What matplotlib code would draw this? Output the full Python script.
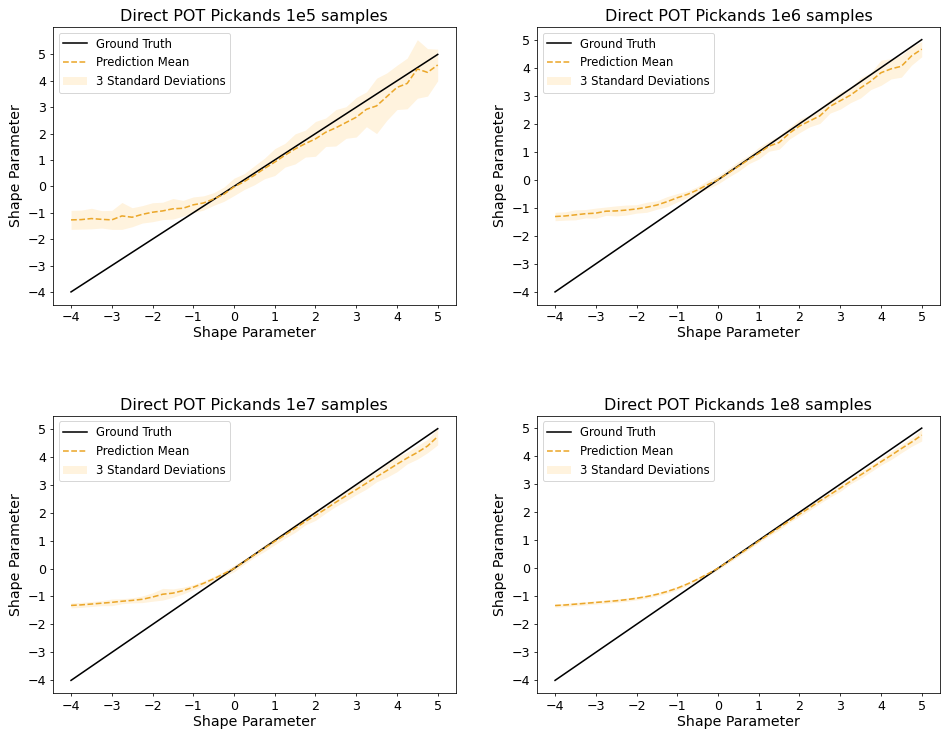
import matplotlib
matplotlib.use("Agg")
import matplotlib.pyplot as plt
import numpy as np

# shape parameter grid
x = np.array([-4.0, -3.75, -3.5, -3.25, -3.0, -2.75, -2.5, -2.25, -2.0, -1.75, -1.5, -1.25,
              -1.0, -0.75, -0.5, -0.25, 0.0, 0.25, 0.5, 0.75, 1.0, 1.25, 1.5, 1.75,
              2.0, 2.25, 2.5, 2.75, 3.0, 3.25, 3.5, 3.75, 4.0, 4.25, 4.5, 4.75, 5.0])

samples = ["1e5", "1e6", "1e7", "1e8"]

mean_1e5 = [-1.27, -1.26, -1.22, -1.25, -1.27, -1.12, -1.17, -1.06, -0.98, -0.93, -0.85, -0.83,
            -0.70, -0.63, -0.48, -0.30, -0.02, 0.18, 0.42, 0.68, 0.92, 1.18, 1.42, 1.62,
            1.80, 2.05, 2.22, 2.42, 2.62, 2.92, 3.05, 3.40, 3.75, 3.90, 4.45, 4.32, 4.60]
std_1e5 = [0.12, 0.12, 0.13, 0.11, 0.12, 0.17, 0.12, 0.11, 0.12, 0.11, 0.13, 0.10,
           0.10, 0.09, 0.08, 0.09, 0.11, 0.10, 0.12, 0.13, 0.17, 0.15, 0.19, 0.17,
           0.22, 0.18, 0.23, 0.20, 0.25, 0.22, 0.35, 0.30, 0.28, 0.32, 0.37, 0.30, 0.20]

mean_1e6 = [-1.31, -1.29, -1.25, -1.21, -1.19, -1.12, -1.11, -1.08, -1.04, -0.98, -0.90, -0.78,
            -0.64, -0.52, -0.36, -0.17, 0.00, 0.24, 0.48, 0.72, 0.95, 1.20, 1.33, 1.66,
            1.92, 2.10, 2.28, 2.62, 2.82, 3.02, 3.28, 3.52, 3.82, 3.96, 4.05, 4.42, 4.66]
std_1e6 = [0.05, 0.05, 0.06, 0.05, 0.06, 0.05, 0.06, 0.06, 0.05, 0.06, 0.05, 0.06,
           0.05, 0.04, 0.04, 0.05, 0.05, 0.05, 0.06, 0.05, 0.07, 0.06, 0.08, 0.07,
           0.08, 0.07, 0.09, 0.08, 0.10, 0.09, 0.12, 0.10, 0.15, 0.12, 0.13, 0.11, 0.09]

mean_1e7 = [-1.32, -1.30, -1.27, -1.24, -1.21, -1.17, -1.14, -1.10, -1.02, -0.92, -0.88, -0.79,
            -0.67, -0.53, -0.37, -0.19, 0.00, 0.24, 0.49, 0.73, 0.97, 1.20, 1.44, 1.68,
            1.90, 2.13, 2.37, 2.60, 2.82, 3.05, 3.28, 3.50, 3.73, 3.95, 4.15, 4.38, 4.72]
std_1e7 = [0.03, 0.03, 0.03, 0.03, 0.04, 0.03, 0.03, 0.04, 0.05, 0.07, 0.05, 0.04,
           0.03, 0.03, 0.03, 0.03, 0.04, 0.03, 0.03, 0.04, 0.04, 0.04, 0.05, 0.04,
           0.06, 0.05, 0.05, 0.06, 0.06, 0.07, 0.06, 0.08, 0.09, 0.07, 0.08, 0.08, 0.10]

mean_1e8 = [-1.33, -1.31, -1.28, -1.25, -1.22, -1.19, -1.16, -1.12, -1.07, -1.01, -0.93, -0.83,
            -0.71, -0.56, -0.39, -0.20, 0.00, 0.24, 0.48, 0.72, 0.97, 1.21, 1.45, 1.69,
            1.93, 2.16, 2.40, 2.63, 2.86, 3.10, 3.33, 3.56, 3.80, 4.03, 4.27, 4.50, 4.75]
std_1e8 = [0.02, 0.02, 0.02, 0.02, 0.02, 0.02, 0.02, 0.02, 0.02, 0.02, 0.02, 0.02,
           0.02, 0.02, 0.02, 0.02, 0.02, 0.02, 0.02, 0.02, 0.02, 0.02, 0.03, 0.02,
           0.03, 0.03, 0.03, 0.03, 0.04, 0.03, 0.04, 0.04, 0.04, 0.05, 0.05, 0.05, 0.07]

means = [mean_1e5, mean_1e6, mean_1e7, mean_1e8]
stds = [std_1e5, std_1e6, std_1e7, std_1e8]

plt.rcParams["xtick.labelsize"] = 13
plt.rcParams["ytick.labelsize"] = 13

fig, axes = plt.subplots(2, 2, figsize=(941 / 70, 731 / 70), dpi=70)
fig.subplots_adjust(left=0.056, right=0.999, top=0.963, bottom=0.052, wspace=0.2, hspace=0.4)

for ax, n, m, s in zip(axes.flat, samples, means, stds):
    m = np.array(m)
    s = np.array(s)
    ax.plot(x, x, color="black", linewidth=1.6, label="Ground Truth")
    ax.plot(x, m, color="#eba72a", linestyle="--", linewidth=1.6, label="Prediction Mean")
    ax.fill_between(x, m - 3 * s, m + 3 * s, color="orange", alpha=0.13,
                    linewidth=0, label="3 Standard Deviations")
    ax.set_title("Direct POT Pickands " + n + " samples", fontsize=16.5)
    ax.set_xlabel("Shape Parameter", fontsize=14.5, labelpad=2)
    ax.set_ylabel("Shape Parameter", fontsize=14.5)
    ax.set_xticks(range(-4, 6))
    ax.set_yticks(range(-4, 6))
    ax.legend(loc="upper left", fontsize=12)

fig.savefig("out.png")
